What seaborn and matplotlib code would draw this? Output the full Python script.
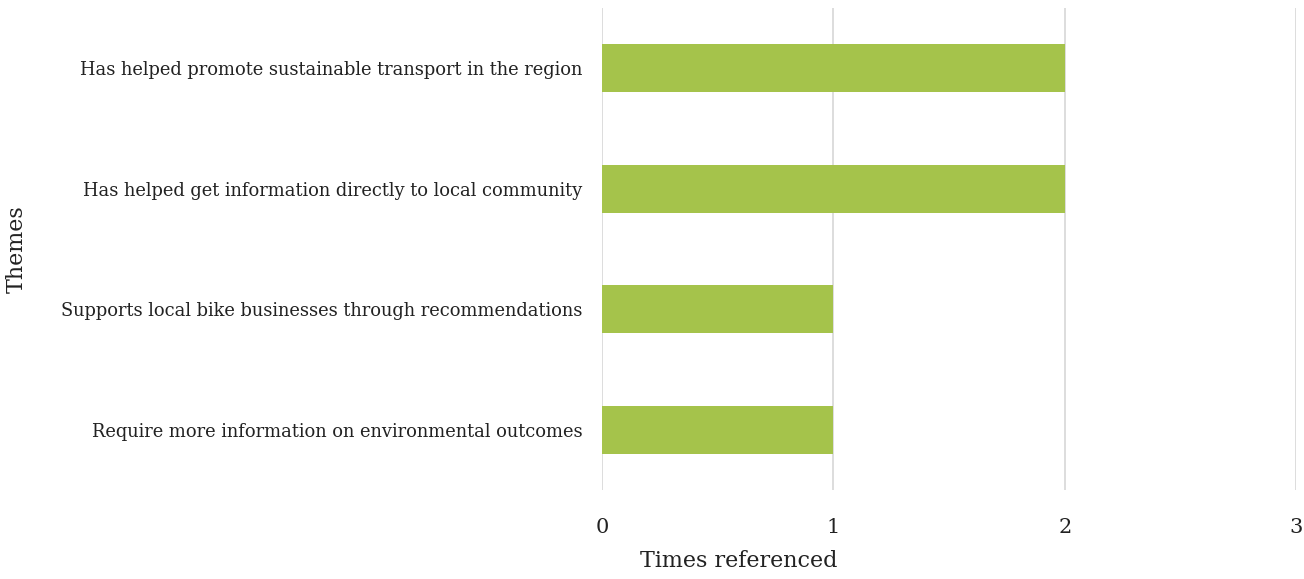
import matplotlib
matplotlib.use("Agg")
import matplotlib.pyplot as plt
import seaborn as sns
import pandas as pd

themes = [
    "Has helped promote sustainable transport in the region",
    "Has helped get information directly to local community",
    "Supports local bike businesses through recommendations",
    "Require more information on environmental outcomes",
]
counts = [2, 2, 1, 1]
x_ticks = [0, 1, 2, 3]

sns.set_theme(style="white")
plt.rcParams["font.family"] = ["DejaVu Serif"]

df = pd.DataFrame({"Theme": themes, "Count": counts})

fig = plt.figure(figsize=(13.04, 5.79), dpi=100)
ax = fig.add_axes([0.4617, 0.1537, 0.5322, 0.8325])
sns.barplot(data=df, x="Count", y="Theme", color="#A5C34B", saturation=1,
            width=0.4, ax=ax, zorder=3, linewidth=0)
ax.set_xlim(0, 3)
ax.set_xticks(x_ticks)
ax.set_ylim(3.5, -0.5)
ax.grid(axis="x", color="#dddddd", linewidth=1.4, zorder=0)
ax.set_axisbelow(True)
for s in ax.spines.values():
    s.set_visible(False)
ax.tick_params(axis="x", length=0, pad=20, labelsize=15, colors="#222222")
ax.tick_params(axis="y", length=0, pad=14, labelsize=12.9, colors="#222222")
ax.set_xlabel("Times referenced", fontsize=16, color="#222222")
ax.xaxis.set_label_coords(0.197, -0.125)
ax.set_ylabel("Themes", fontsize=16, color="#222222")
ax.yaxis.set_label_coords(-0.827, 0.5)
fig.savefig("out.png", dpi=100)
